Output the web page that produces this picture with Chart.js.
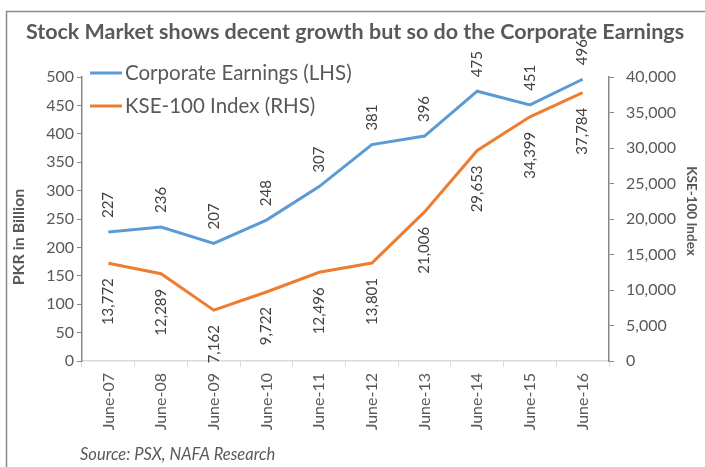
<!DOCTYPE html>
<html>
<head>
<meta charset="utf-8">
<script src="https://cdn.jsdelivr.net/npm/chart.js@4.4.0/dist/chart.umd.min.js"></script>
<style>
  html, body { margin: 0; padding: 0; background: #fff; }
  #wrap { width: 705px; height: 467px; position: relative; }
</style>
</head>
<body>
<div id="wrap"><canvas id="earningsChart" width="705" height="467"></canvas></div>
<script>
// chart data
const years = ['June-07', 'June-08', 'June-09', 'June-10', 'June-11', 'June-12', 'June-13', 'June-14', 'June-15', 'June-16'];
const earnings = [227, 236, 207, 248, 307, 381, 396, 475, 451, 496];
const kse100 = [13772, 12289, 7162, 9722, 12496, 13801, 21006, 29653, 34399, 37784];

const chartTitle = 'Stock Market shows decent growth but so do the Corporate Earnings';
const leftTitle = 'PKR in Billion';
const rightTitle = 'KSE-100 Index';
const sourceNote = 'Source: PSX, NAFA Research';

const BLUE = '#5b9bd5';
const ORANGE = '#ed7d31';
const GREY = '#595959';
const FONT = 'Lato, "Open Sans", sans-serif';

// frame, titles, legend, data labels
const decorations = {
    id: 'decorations',
    beforeDraw(chart) {
        const ctx = chart.ctx;
        ctx.save();
        ctx.strokeStyle = '#8a8a8a';
        ctx.lineWidth = 1.5;
        ctx.beginPath();
        ctx.moveTo(6.5, 470);
        ctx.lineTo(6.5, 11.5);
        ctx.lineTo(710, 11.5);
        ctx.stroke();
        ctx.restore();
    },
    afterDraw(chart) {
        const ctx = chart.ctx;
        ctx.save();
        ctx.fillStyle = GREY;

        // title
        ctx.font = 'bold 21.5px ' + FONT;
        ctx.textAlign = 'center';
        ctx.textBaseline = 'middle';
        ctx.fillText(chartTitle, 355, 32);

        // axis titles
        ctx.save();
        ctx.translate(19, 237);
        ctx.rotate(-Math.PI / 2);
        ctx.font = 'bold 16px ' + FONT;
        ctx.fillText(leftTitle, 0, 0);
        ctx.restore();

        ctx.save();
        ctx.translate(691, 211);
        ctx.rotate(Math.PI / 2);
        ctx.font = 'bold 13.5px ' + FONT;
        ctx.fillText(rightTitle, 0, 0);
        ctx.restore();

        // source
        ctx.font = 'italic 16.5px ' + FONT;
        ctx.textAlign = 'left';
        ctx.fillText(sourceNote, 80, 455);

        // legend
        ctx.font = '20.5px ' + FONT;
        chart.data.datasets.forEach((ds, i) => {
            const y = 73 + i * 33;
            ctx.strokeStyle = ds.borderColor;
            ctx.lineWidth = 3;
            ctx.beginPath();
            ctx.moveTo(90, y);
            ctx.lineTo(122, y);
            ctx.stroke();
            ctx.fillStyle = GREY;
            ctx.fillText(ds.label, 125, y);
        });

        // data labels, rotated
        ctx.font = '15px ' + FONT;
        ctx.fillStyle = '#404040';
        chart.data.datasets.forEach((ds, i) => {
            const meta = chart.getDatasetMeta(i);
            meta.data.forEach((pt, j) => {
                const txt = ds.data[j].toLocaleString('en-US');
                ctx.save();
                if (i === 0) {
                    ctx.translate(pt.x, pt.y - 14);
                    ctx.rotate(-Math.PI / 2);
                    ctx.textAlign = 'left';
                } else {
                    ctx.translate(pt.x, pt.y + 15);
                    ctx.rotate(-Math.PI / 2);
                    ctx.textAlign = 'right';
                }
                ctx.textBaseline = 'middle';
                ctx.fillText(txt, 0, 0);
                ctx.restore();
            });
        });
        ctx.restore();
    }
};

const ctx = document.getElementById('earningsChart').getContext('2d');
const earningsChart = new Chart(ctx, {
    type: 'line',
    data: {
        labels: years,
        datasets: [{
            label: 'Corporate Earnings (LHS)',
            data: earnings,
            borderColor: BLUE,
            backgroundColor: BLUE,
            borderWidth: 3,
            pointRadius: 0,
            tension: 0,
            yAxisID: 'y'
        }, {
            label: 'KSE-100 Index (RHS)',
            data: kse100,
            borderColor: ORANGE,
            backgroundColor: ORANGE,
            borderWidth: 3,
            pointRadius: 0,
            tension: 0,
            yAxisID: 'y1'
        }]
    },
    options: {
        responsive: false,
        animation: false,
        devicePixelRatio: 1,
        layout: {
            padding: { top: 77, left: 0, right: 0, bottom: 0 }
        },
        plugins: {
            legend: { display: false },
            title: { display: false },
            tooltip: { enabled: false }
        },
        scales: {
            x: {
                offset: true,
                grid: {
                    offset: true,
                    drawOnChartArea: false,
                    drawTicks: true,
                    tickLength: 6,
                    color: '#d9d9d9'
                },
                border: { color: '#d9d9d9', width: 1.5 },
                ticks: {
                    minRotation: 90,
                    maxRotation: 90,
                    padding: 6,
                    color: GREY,
                    font: { family: FONT, size: 16 }
                },
                afterFit: s => { s.height = 106; }
            },
            y: {
                position: 'left',
                min: 0,
                max: 500,
                grid: {
                    drawOnChartArea: false,
                    tickLength: 5,
                    color: '#868686'
                },
                border: { color: '#868686', width: 1.5 },
                ticks: {
                    stepSize: 50,
                    padding: 3,
                    color: GREY,
                    font: { family: FONT, size: 16 }
                },
                afterFit: s => { s.width = 82; }
            },
            y1: {
                position: 'right',
                min: 0,
                max: 40000,
                grid: {
                    drawOnChartArea: false,
                    tickLength: 5,
                    color: '#868686'
                },
                border: { color: '#868686', width: 1.5 },
                ticks: {
                    stepSize: 5000,
                    padding: 12,
                    color: GREY,
                    font: { family: FONT, size: 16 },
                    callback: v => v.toLocaleString('en-US')
                },
                afterFit: s => { s.width = 96; }
            }
        }
    },
    plugins: [decorations]
});
</script>
</body>
</html>
